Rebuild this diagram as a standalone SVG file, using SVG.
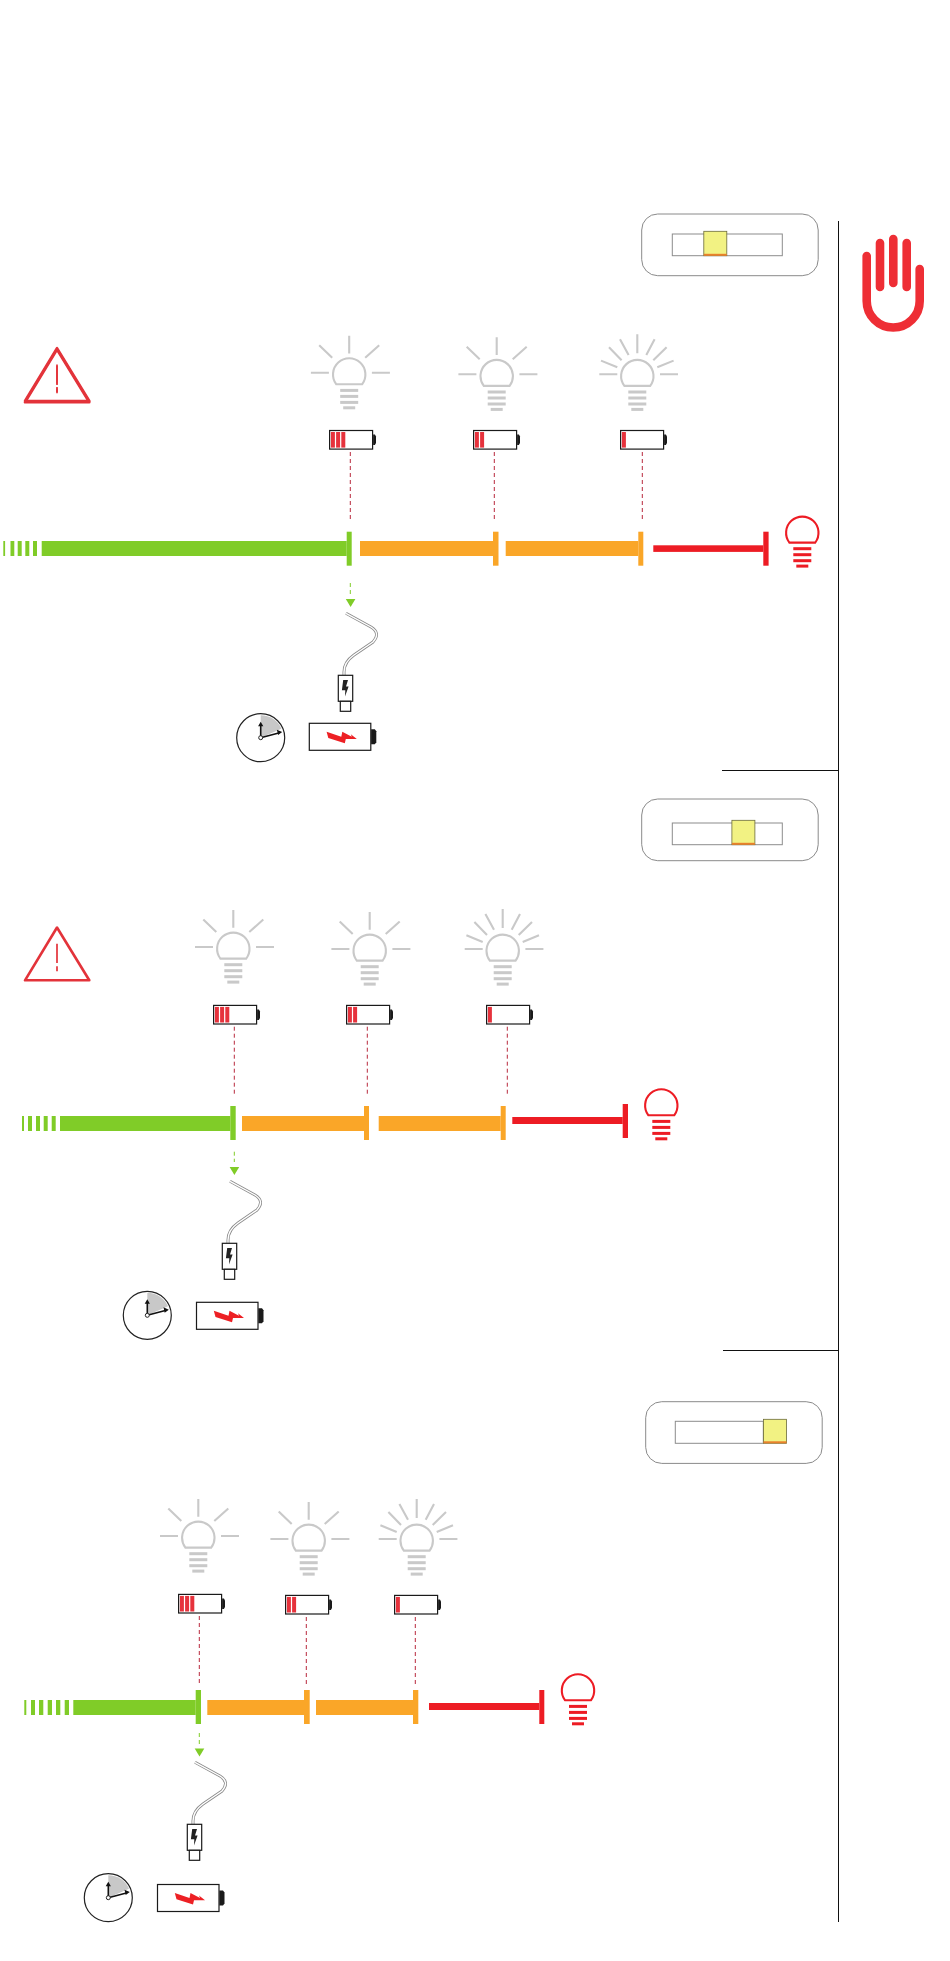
<svg xmlns="http://www.w3.org/2000/svg" xmlns:xlink="http://www.w3.org/1999/xlink" width="950" height="1961" viewBox="0 0 950 1961">
<style>
.ray{stroke:#c9c9c9;stroke-width:2.1;fill:none}
.gb{color:#c9c9c9}.rb{color:#ed1c24}
.bg{fill:#80cc28}.bo{fill:#faa628}.br{fill:#ed1c24}
.dash{stroke:#b8283c;stroke-width:1;stroke-dasharray:4 3;fill:none}
.gdash{stroke:#80cc28;stroke-width:1;stroke-dasharray:4 3;fill:none}
.box{fill:#fff;stroke:#8a8a8a;stroke-width:1}
.track{fill:#fff;stroke:#8c8c8c;stroke-width:1}
.knob{fill:#f2f283;stroke:#6b6b3a;stroke-width:.8}
.strip{fill:#e8812b}
.sep{stroke:#111;stroke-width:1;fill:none}
.cell{fill:#e6323c}
.blk{fill:#fff;stroke:#1a1a1a;stroke-width:1.2}
.warn{fill:none;stroke:#e3333a;stroke-width:2.6;stroke-linejoin:round}
.warnm{stroke:#e3333a;stroke-width:1.7;fill:none}
</style>
<defs>
<g id="bulb">
<path d="M-12.9 11.6A16.2 16.2 0 1 1 12.9 11.6Z" fill="none" stroke="currentColor" stroke-width="2.1"/>
<g fill="currentColor"><rect x="-9" y="16.2" width="18" height="3"/><rect x="-9" y="22.2" width="18" height="3"/><rect x="-9" y="28.2" width="18" height="3"/><rect x="-6" y="33.6" width="12" height="3"/></g>
</g>
<path id="rays5" class="ray" d="M-38.3 0H-20.3M22.7 0H40.7M0 -37V-19.3M-30 -27.5L-17 -15M30 -27.5L16 -15"/>
<path id="rays9" class="ray" d="M-38 0H-20M22.7 0H40.7M0 -40V-21M-17.3 -35L-8.7 -19.3M17.3 -35L9 -19.3M-28.3 -27L-15.7 -14M29.3 -27L16 -14M-36.3 -13.7L-20 -7M36.3 -13.7L20 -7"/>
<g id="batt">
<rect class="blk" x="0" y="0" width="43" height="18.6"/>
<path d="M43.5 4H45.3L46.4 6V12.6L45.3 14.6H43.5Z" fill="#1a1a1a"/>
</g>
<g id="c1"><rect class="cell" x="1.3" y="1.5" width="4" height="15.6"/></g>
<g id="c2"><use href="#c1"/><use href="#c1" x="5.2"/></g>
<g id="c3"><use href="#c2"/><use href="#c1" x="10.4"/></g>
<g id="warning">
<path class="warn" d="M57 349.5L25 402.3H89.3Z"/>
<path class="warnm" d="M57 365.7V385M57 388.3V393.3"/>
</g>
<g id="slider">
<rect class="box" x="0" y="0" width="176.5" height="61.7" rx="16"/>
</g>
<g id="chargeset">
<path d="M346 613.3L371 627Q381 633 373 642L354 655Q344 662 344 672V675.3" fill="none" stroke="#8a8a8a" stroke-width="3"/>
<path d="M346 613.3L371 627Q381 633 373 642L354 655Q344 662 344 672V675.3" fill="none" stroke="#fff" stroke-width="1.4"/>
<rect class="blk" x="338.3" y="675.3" width="14.4" height="26"/>
<rect class="blk" x="340.3" y="701.3" width="10.4" height="10"/>
<path d="M343.2 680H348L346 686.4H348.6L345 696.4L345.3 690.2H341.9Z" fill="#222"/>
</g>
<g id="clock">
<circle r="24" fill="#fff" stroke="#222" stroke-width="1.2"/>
<path d="M0 0V-22.5A22.5 22.5 0 0 1 20.7 -9Z" fill="#c8c8c8"/>
<path d="M0 0V-13M0 0L18 -4.8" stroke="#111" stroke-width="1.6" fill="none"/>
<path d="M-2.6 -11.5L0 -16L2.6 -11.5ZM16.2 -8L21.5 -5.6L17.4 -2.6Z" fill="#111"/>
<circle r="2" fill="#fff" stroke="#222" stroke-width="1"/>
</g>
<g id="bigbatt">
<rect class="blk" x="0" y="0" width="61.5" height="27"/>
<path d="M61.8 6H65.5L67 8V19L65.5 21H61.8Z" fill="#1a1a1a"/>
<path d="M17.3 8.5L32 13.5L33 8.5L42.5 13.5L41.5 11L47.5 15.7L36.5 15.7L35.5 20L19 14.8Z" fill="#ed2024"/>
</g>
<path id="head" d="M-4.8 0H4.8L0 8Z" fill="#80cc28"/>
</defs>

<g id="separators">
<path class="sep" d="M838.5 221V1922M722 770.5H838.5M723 1350.5H838.5"/>
</g>

<g id="stop-hand">
<path d="M866.7 256V301A26.5 26.5 0 0 0 919.7 301V269" fill="none" stroke="#ee2e35" stroke-width="8.6" stroke-linecap="round"/>
<path d="M880 243V287M893.3 239V283M906.7 243V287" fill="none" stroke="#ee2e35" stroke-width="8.6" stroke-linecap="round"/>
</g>

<g id="slider-1">
<use href="#slider" x="641.7" y="214"/>
<rect class="track" x="672.3" y="234" width="110" height="21.7"/>
<rect class="knob" x="703.8" y="231.3" width="23" height="24.4"/>
<rect class="strip" x="703.8" y="253.8" width="23" height="2"/>
</g>
<g id="slider-2">
<use href="#slider" x="641.7" y="799"/>
<rect class="track" x="672.3" y="823" width="110" height="21.7"/>
<rect class="knob" x="731.9" y="820.3" width="23" height="24.4"/>
<rect class="strip" x="731.9" y="842.8" width="23" height="2"/>
</g>
<g id="slider-3">
<use href="#slider" x="645.7" y="1401.7"/>
<rect class="track" x="675.3" y="1421.3" width="88" height="22"/>
<rect class="knob" x="763.5" y="1419.3" width="23" height="24"/>
<rect class="strip" x="763.5" y="1441.3" width="23" height="2"/>
</g>

<g id="warning-1"><use href="#warning"/></g>
<g id="warning-2"><use href="#warning" y="-1.3"/></g>
<g id="warning-3"><use href="#warning" y="578"/></g>

<g id="connectors">
<path class="dash" d="M350.3 452V521.7M494.3 452V521.7M642.3 452V521.7"/>
<path class="dash" d="M234.3 1026.7V1095M367.3 1026.7V1095M507.3 1026.7V1095"/>
<path class="dash" d="M199.3 1616V1684M306.3 1617V1684M415.3 1617V1684"/>
<path class="gdash" d="M350.3 583V594"/><use href="#head" x="350.6" y="599"/>
<path class="gdash" d="M234.3 1151.7V1162"/><use href="#head" x="234.4" y="1167"/>
<path class="gdash" d="M199.3 1733V1744"/><use href="#head" x="199.5" y="1748.5"/>
</g>

<g id="p1-lamp-1"><use href="#rays5" x="349.2" y="372.7"/><use href="#bulb" class="gb" x="349.2" y="372.7"/><use href="#batt" x="329.6" y="430.5"/><use href="#c3" x="329.6" y="430.5"/></g>
<g id="p1-lamp-2"><use href="#rays5" x="496.7" y="374.3"/><use href="#bulb" class="gb" x="496.7" y="374.3"/><use href="#batt" x="473.6" y="430.5"/><use href="#c2" x="473.6" y="430.5"/></g>
<g id="p1-lamp-3"><use href="#rays9" x="637.3" y="374.3"/><use href="#bulb" class="gb" x="637.3" y="374.3"/><use href="#batt" x="620.6" y="430.5"/><use href="#c1" x="620.6" y="430.5"/></g>

<g id="p2-lamp-1"><use href="#rays5" x="233.3" y="947"/><use href="#bulb" class="gb" x="233.3" y="947"/><use href="#batt" x="213.6" y="1005.4"/><use href="#c3" x="213.6" y="1005.4"/></g>
<g id="p2-lamp-2"><use href="#rays5" x="369.7" y="949"/><use href="#bulb" class="gb" x="369.7" y="949"/><use href="#batt" x="346.6" y="1005.4"/><use href="#c2" x="346.6" y="1005.4"/></g>
<g id="p2-lamp-3"><use href="#rays9" x="502.7" y="949"/><use href="#bulb" class="gb" x="502.7" y="949"/><use href="#batt" x="486.6" y="1005.4"/><use href="#c1" x="486.6" y="1005.4"/></g>

<g id="p3-lamp-1"><use href="#rays5" x="198.3" y="1536"/><use href="#bulb" class="gb" x="198.3" y="1536"/><use href="#batt" x="178.6" y="1594.4"/><use href="#c3" x="178.6" y="1594.4"/></g>
<g id="p3-lamp-2"><use href="#rays5" x="308.7" y="1539"/><use href="#bulb" class="gb" x="308.7" y="1539"/><use href="#batt" x="285.6" y="1595.4"/><use href="#c2" x="285.6" y="1595.4"/></g>
<g id="p3-lamp-3"><use href="#rays9" x="416.7" y="1539"/><use href="#bulb" class="gb" x="416.7" y="1539"/><use href="#batt" x="394.6" y="1595.4"/><use href="#c1" x="394.6" y="1595.4"/></g>

<g id="p1-timeline">
<g class="bg"><rect x="3.3" y="541" width="1.8" height="15"/><rect x="10.5" y="541" width="3.8" height="15"/><rect x="17.7" y="541" width="4" height="15"/><rect x="25.3" y="541" width="4" height="15"/><rect x="33" y="541" width="4" height="15"/><rect x="41.7" y="541" width="305" height="15"/><rect x="346.7" y="531.7" width="5" height="34"/></g>
<g class="bo"><rect x="360" y="541" width="133" height="15"/><rect x="493" y="531.7" width="5.5" height="34"/><rect x="505.7" y="541" width="132.6" height="15"/><rect x="638.3" y="531.7" width="5" height="34"/></g>
<g class="br"><rect x="653.3" y="545.3" width="110" height="6.6"/><rect x="763.3" y="531.7" width="5.3" height="34"/></g>
</g>
<g id="p1-red-bulb"><use href="#bulb" class="rb" x="802.3" y="531"/></g>

<g id="p2-timeline">
<g class="bg"><rect x="22" y="1116" width="2" height="15"/><rect x="28" y="1116" width="4" height="15"/><rect x="36" y="1116" width="4" height="15"/><rect x="43.7" y="1116" width="4" height="15"/><rect x="51.7" y="1116" width="4" height="15"/><rect x="60" y="1116" width="170.3" height="15"/><rect x="230.3" y="1106" width="5.4" height="34"/></g>
<g class="bo"><rect x="242" y="1116" width="122" height="15"/><rect x="364" y="1106" width="5" height="34"/><rect x="378.7" y="1116" width="122" height="15"/><rect x="500.7" y="1106" width="5" height="34"/></g>
<g class="br"><rect x="512.3" y="1117" width="110.4" height="7"/><rect x="622.7" y="1104" width="5.3" height="34"/></g>
</g>
<g id="p2-red-bulb"><use href="#bulb" class="rb" x="661.3" y="1103.7"/></g>

<g id="p3-timeline">
<g class="bg"><rect x="24.3" y="1700" width="2" height="15"/><rect x="31" y="1700" width="4" height="15"/><rect x="39" y="1700" width="4.3" height="15"/><rect x="47.7" y="1700" width="4.3" height="15"/><rect x="56" y="1700" width="4.3" height="15"/><rect x="64.7" y="1700" width="4.3" height="15"/><rect x="73.3" y="1700" width="122.4" height="15"/><rect x="195.7" y="1690" width="5.3" height="34"/></g>
<g class="bo"><rect x="207.3" y="1700" width="96.7" height="15"/><rect x="304" y="1690" width="5.7" height="34"/><rect x="316" y="1700" width="97" height="15"/><rect x="413" y="1690" width="5.3" height="34"/></g>
<g class="br"><rect x="429" y="1703" width="110.3" height="7"/><rect x="539.3" y="1690" width="5" height="34"/></g>
</g>
<g id="p3-red-bulb"><use href="#bulb" class="rb" x="578" y="1688.7"/></g>

<g id="p1-charger"><use href="#chargeset"/></g>
<g id="p2-charger"><use href="#chargeset" x="-116" y="568"/></g>
<g id="p3-charger"><use href="#chargeset" x="-151" y="1149"/></g>

<g id="p1-clock"><use href="#clock" x="260.7" y="737.7"/></g>
<g id="p2-clock"><use href="#clock" x="147.3" y="1315.3"/></g>
<g id="p3-clock"><use href="#clock" x="108.3" y="1897.7"/></g>

<g id="p1-charging-battery"><use href="#bigbatt" x="309.3" y="723.3"/></g>
<g id="p2-charging-battery"><use href="#bigbatt" x="196.5" y="1302.3"/></g>
<g id="p3-charging-battery"><use href="#bigbatt" x="157.5" y="1884.5"/></g>
</svg>
